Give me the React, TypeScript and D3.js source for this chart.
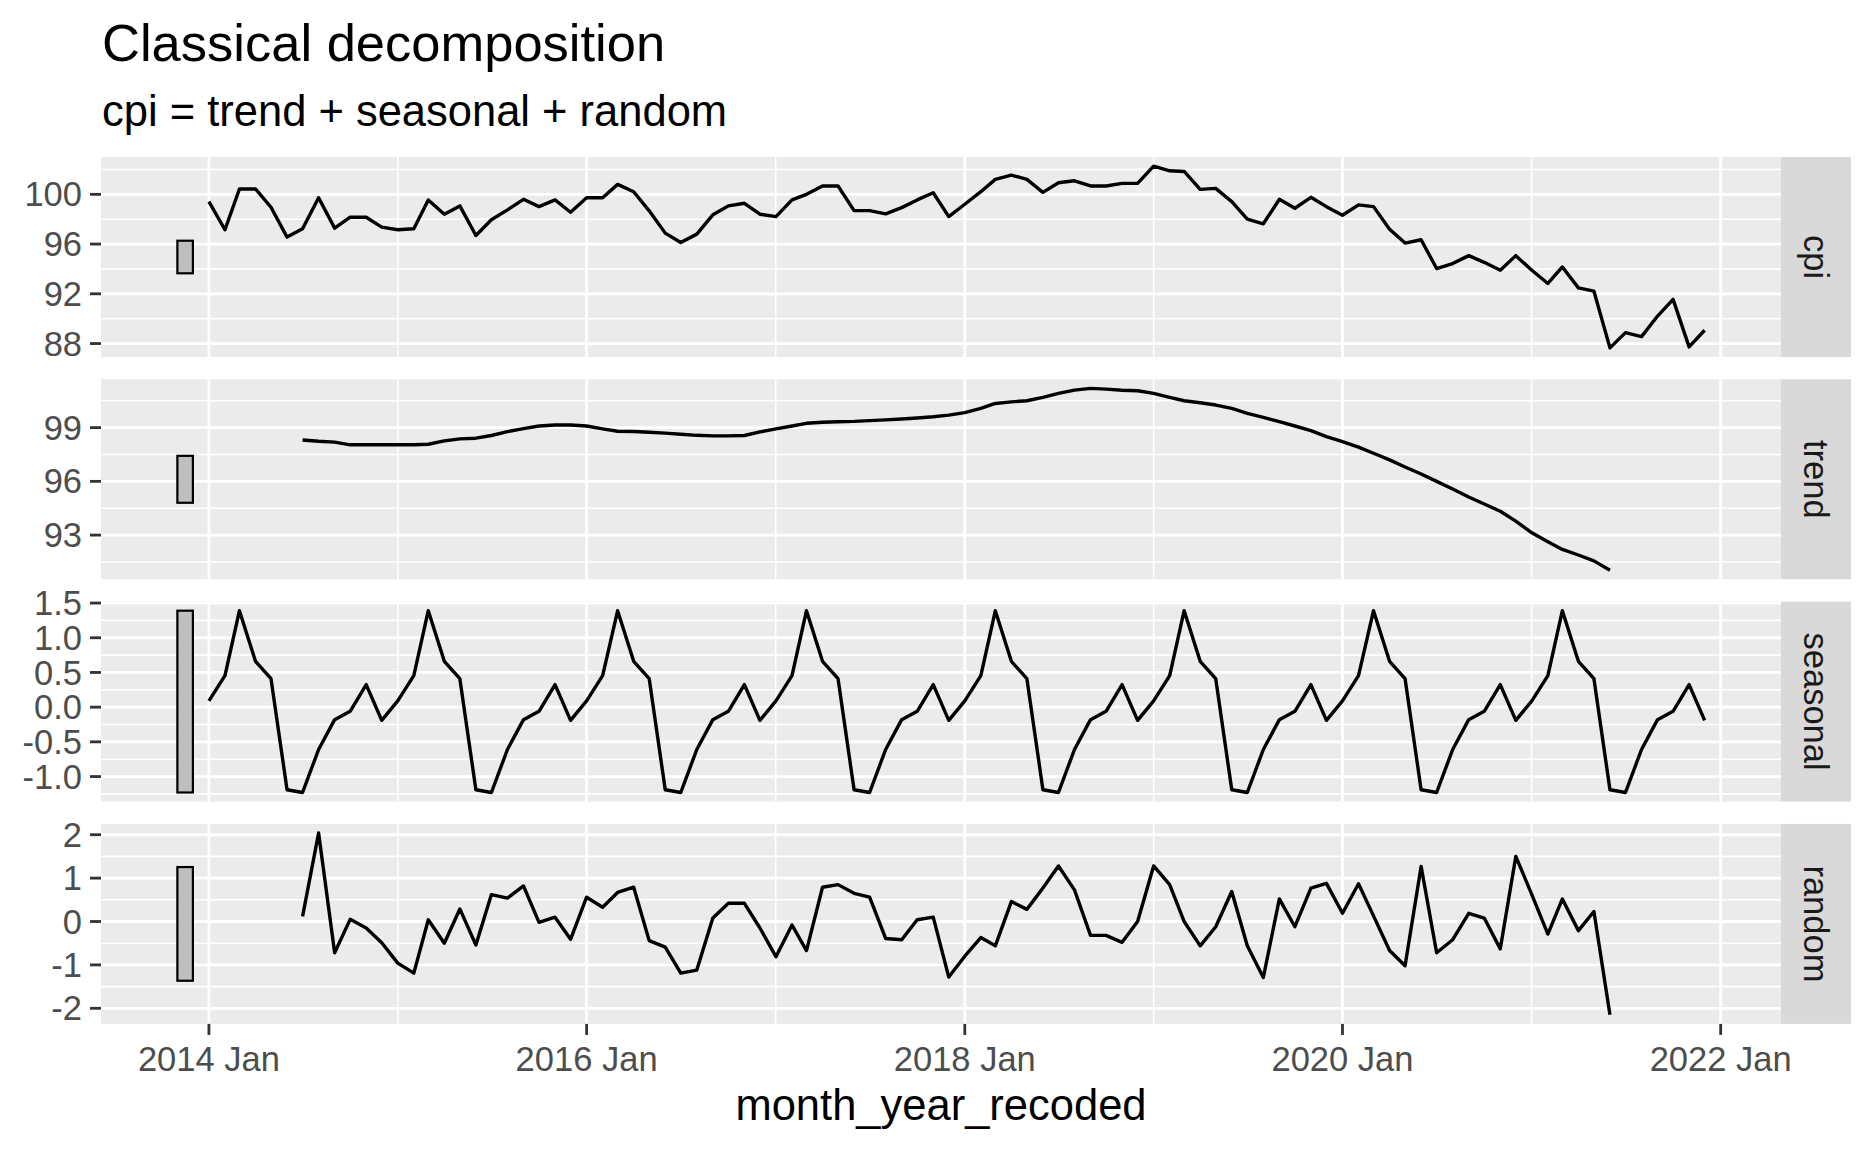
import React from "react";
import * as d3 from "d3";

// ---------- data ----------
const START = new Date(Date.UTC(2014, 0, 1));
const N_MONTHS = 96;
const MA_OFFSET = 6; // trend / random start 6 months in

const cpiValues = [
  99.41, 97.15, 100.43, 100.43, 98.96, 96.56, 97.23, 99.73, 97.28, 98.16, 98.16, 97.36,
  97.15, 97.23, 99.55, 98.4, 99.07, 96.69, 97.95, 98.75, 99.6, 99.01, 99.55, 98.56,
  99.73, 99.73, 100.8, 100.21, 98.67, 96.88, 96.13, 96.8, 98.35, 99.07, 99.28, 98.4,
  98.21, 99.55, 100.0, 100.67, 100.67, 98.69, 98.69, 98.43, 98.93, 99.55, 100.13, 98.21,
  99.2, 100.21, 101.2, 101.55, 101.2, 100.16, 100.93, 101.09, 100.67, 100.67, 100.88, 100.88,
  102.27, 101.89, 101.84, 100.4, 100.48, 99.41, 98.0, 97.63, 99.6, 98.88, 99.76, 99.01,
  98.32, 99.15, 99.01, 97.2, 96.08, 96.35, 94.03, 94.43, 95.07, 94.53, 93.89, 95.07,
  93.89, 92.83, 94.16, 92.48, 92.21, 87.65, 88.88, 88.56, 90.21, 91.55, 87.73, 89.07,
];

const trendValues = [
  98.31, 98.24, 98.19, 98.04, 98.04, 98.04,
  98.04, 98.04, 98.07, 98.26, 98.37, 98.41, 98.56, 98.78, 98.94, 99.09, 99.15, 99.15,
  99.09, 98.93, 98.8, 98.78, 98.74, 98.69, 98.63, 98.57, 98.54, 98.54, 98.56, 98.76,
  98.93, 99.09, 99.24, 99.3, 99.33, 99.35, 99.39, 99.43, 99.48, 99.54, 99.61, 99.7,
  99.84, 100.07, 100.35, 100.44, 100.5, 100.69, 100.91, 101.09, 101.19, 101.15, 101.09, 101.06,
  100.91, 100.69, 100.5, 100.39, 100.26, 100.07, 99.8, 99.57, 99.33, 99.09, 98.83, 98.5,
  98.22, 97.91, 97.57, 97.2, 96.8, 96.41, 96.0, 95.57, 95.13, 94.74, 94.33, 93.78,
  93.13, 92.63, 92.2, 91.89, 91.56, 91.04,
];

const seasonalValues = [
  0.09, 0.455, 1.39, 0.66, 0.41, -1.19, -1.23, -0.61, -0.18, -0.06, 0.325, -0.19,
  0.09, 0.455, 1.39, 0.66, 0.41, -1.19, -1.23, -0.61, -0.18, -0.06, 0.325, -0.19,
  0.09, 0.455, 1.39, 0.66, 0.41, -1.19, -1.23, -0.61, -0.18, -0.06, 0.325, -0.19,
  0.09, 0.455, 1.39, 0.66, 0.41, -1.19, -1.23, -0.61, -0.18, -0.06, 0.325, -0.19,
  0.09, 0.455, 1.39, 0.66, 0.41, -1.19, -1.23, -0.61, -0.18, -0.06, 0.325, -0.19,
  0.09, 0.455, 1.39, 0.66, 0.41, -1.19, -1.23, -0.61, -0.18, -0.06, 0.325, -0.19,
  0.09, 0.455, 1.39, 0.66, 0.41, -1.19, -1.23, -0.61, -0.18, -0.06, 0.325, -0.19,
  0.09, 0.455, 1.39, 0.66, 0.41, -1.19, -1.23, -0.61, -0.18, -0.06, 0.325, -0.19,
];

const randomValues = [
  0.12, 2.04, -0.72, 0.05, -0.15, -0.49,
  -0.96, -1.19, 0.04, -0.5, 0.29, -0.54, 0.62, 0.54, 0.82, -0.02, 0.1, -0.41,
  0.56, 0.33, 0.67, 0.79, -0.44, -0.59, -1.19, -1.12, 0.08, 0.42, 0.42, -0.15,
  -0.81, -0.08, -0.67, 0.79, 0.85, 0.65, 0.56, -0.39, -0.42, 0.04, 0.1, -1.28,
  -0.8, -0.37, -0.56, 0.46, 0.28, 0.77, 1.28, 0.73, -0.32, -0.32, -0.48, 0.0,
  1.28, 0.85, 0.0, -0.56, -0.12, 0.69, -0.56, -1.29, 0.52, -0.12, 0.77, 0.88,
  0.19, 0.87, 0.13, -0.67, -1.02, 1.27, -0.72, -0.42, 0.19, 0.08, -0.63, 1.5,
  0.62, -0.29, 0.52, -0.21, 0.23, -2.15,
];

const panelNames = ["cpi", "trend", "seasonal", "random"];
const cpiTicks = [88, 92, 96, 100];
const cpiTickLabels = ["88", "92", "96", "100"];
const trendTicks = [93, 96, 99];
const trendTickLabels = ["93", "96", "99"];
const seasonalTicks = [-1.0, -0.5, 0.0, 0.5, 1.0, 1.5];
const seasonalTickLabels = ["-1.0", "-0.5", "0.0", "0.5", "1.0", "1.5"];
const randomTicks = [-2, -1, 0, 1, 2];
const randomTickLabels = ["-2", "-1", "0", "1", "2"];
const xTickYears = [2014, 2016, 2018, 2020, 2022];
const xTickLabels = ["2014 Jan", "2016 Jan", "2018 Jan", "2020 Jan", "2022 Jan"];

const TITLE = "Classical decomposition";
const SUBTITLE = "cpi = trend + seasonal + random";
const X_TITLE = "month_year_recoded";

// ---------- layout ----------
const W = 1872;
const H = 1152;
const PANEL_LEFT = 101;
const PANEL_RIGHT = 1781;
const STRIP_RIGHT = 1851;
const PANEL_TOP = 157;
const PANEL_H = 200;
const PANEL_GAP = 22.3;
const FONT = "'Liberation Sans', Arial, Helvetica, sans-serif";
const TICK_LEN = 11;
const TICK_FONT = 34.5;
const MAJOR_W = 2.8;
const MINOR_W = 1.6;

const month = (i: number) => d3.utcMonth.offset(START, i);

export default function App() {
  const allDates = d3.range(N_MONTHS).map(month);
  const rectX0 = month(-2);
  const rectX1 = month(-1);
  const xLo = rectX0.getTime();
  const xHi = allDates[N_MONTHS - 1].getTime();
  const xPad = (xHi - xLo) * 0.05;
  const x = d3
    .scaleUtc()
    .domain([new Date(xLo - xPad), new Date(xHi + xPad)])
    .range([PANEL_LEFT, PANEL_RIGHT]);

  const xMajor = xTickYears.map((y) => new Date(Date.UTC(y, 0, 1)));
  const xMinorAll: Date[] = [];
  for (let k = 0; k < xMajor.length - 1; k++) {
    xMinorAll.push(new Date((xMajor[k].getTime() + xMajor[k + 1].getTime()) / 2));
  }
  const stepX = xMajor[1].getTime() - xMajor[0].getTime();
  xMinorAll.unshift(new Date(xMajor[0].getTime() - stepX / 2));
  const [dLo, dHi] = x.domain();
  const xMinor = xMinorAll.filter((d) => d >= dLo && d <= dHi);

  const series: { vals: number[]; offset: number; ticks: number[]; labels: string[] }[] = [
    { vals: cpiValues, offset: 0, ticks: cpiTicks, labels: cpiTickLabels },
    { vals: trendValues, offset: MA_OFFSET, ticks: trendTicks, labels: trendTickLabels },
    { vals: seasonalValues, offset: 0, ticks: seasonalTicks, labels: seasonalTickLabels },
    { vals: randomValues, offset: MA_OFFSET, ticks: randomTicks, labels: randomTickLabels },
  ];

  const ranges = series.map((s) => d3.extent(s.vals) as [number, number]);
  const minRange = d3.min(ranges, (r) => r[1] - r[0]) as number;

  const panels = series.map((s, p) => {
    const top = PANEL_TOP + p * (PANEL_H + PANEL_GAP);
    const [lo, hi] = ranges[p];
    const pad = (hi - lo) * 0.05;
    const y = d3.scaleLinear().domain([lo - pad, hi + pad]).range([top + PANEL_H, top]);
    const step = s.ticks[1] - s.ticks[0];
    const minorAll = [s.ticks[0] - step / 2, ...s.ticks.map((t) => t + step / 2)];
    const minor = minorAll.filter((v) => v >= lo - pad && v <= hi + pad);
    const pts = s.vals.map((v, i) => [month(i + s.offset), v] as [Date, number]);
    const line = d3
      .line<[Date, number]>()
      .x((d) => x(d[0]))
      .y((d) => y(d[1]));
    const center = (lo + hi) / 2;
    return {
      top,
      y,
      minor,
      ticks: s.ticks,
      labels: s.labels,
      path: line(pts) || "",
      rectY0: center - minRange / 2,
      rectY1: center + minRange / 2,
      name: panelNames[p],
    };
  });

  const bottom = panels[3].top + PANEL_H;

  return (
    <svg
      width={W}
      height={H}
      style={{ position: "absolute", left: 0, top: 0, background: "#fff" }}
      fontFamily={FONT}
    >
      <rect x={0} y={0} width={W} height={H} fill="#ffffff" />
      <text x={102} y={61} fontSize={52.5} fill="#000">
        {TITLE}
      </text>
      <text x={102} y={126} fontSize={43.5} fill="#000">
        {SUBTITLE}
      </text>

      {panels.map((pn, p) => (
        <g key={p}>
          <rect x={PANEL_LEFT} y={pn.top} width={PANEL_RIGHT - PANEL_LEFT} height={PANEL_H} fill="#EBEBEB" />
          {pn.minor.map((v, k) => (
            <line key={"hm" + k} x1={PANEL_LEFT} x2={PANEL_RIGHT} y1={pn.y(v)} y2={pn.y(v)} stroke="#fff" strokeWidth={MINOR_W} />
          ))}
          {xMinor.map((d, k) => (
            <line key={"vm" + k} x1={x(d)} x2={x(d)} y1={pn.top} y2={pn.top + PANEL_H} stroke="#fff" strokeWidth={MINOR_W} />
          ))}
          {pn.ticks.map((v, k) => (
            <line key={"hM" + k} x1={PANEL_LEFT} x2={PANEL_RIGHT} y1={pn.y(v)} y2={pn.y(v)} stroke="#fff" strokeWidth={MAJOR_W} />
          ))}
          {xMajor.map((d, k) => (
            <line key={"vM" + k} x1={x(d)} x2={x(d)} y1={pn.top} y2={pn.top + PANEL_H} stroke="#fff" strokeWidth={MAJOR_W} />
          ))}
          <rect
            x={x(rectX0)}
            y={pn.y(pn.rectY1)}
            width={x(rectX1) - x(rectX0)}
            height={pn.y(pn.rectY0) - pn.y(pn.rectY1)}
            fill="#BFBFBF"
            stroke="#000"
            strokeWidth={2.2}
          />
          <path d={pn.path} fill="none" stroke="#000" strokeWidth={3.4} strokeLinejoin="round" strokeLinecap="butt" />
          {/* y axis ticks */}
          {pn.ticks.map((v, k) => (
            <g key={"yt" + k}>
              <line x1={PANEL_LEFT - TICK_LEN} x2={PANEL_LEFT} y1={pn.y(v)} y2={pn.y(v)} stroke="#333333" strokeWidth={MAJOR_W} />
              <text x={PANEL_LEFT - TICK_LEN - 8} y={pn.y(v)} dy="0.35em" textAnchor="end" fontSize={TICK_FONT} fill="#4D4D4D">
                {pn.labels[k]}
              </text>
            </g>
          ))}
          {/* strip */}
          <rect x={PANEL_RIGHT} y={pn.top} width={STRIP_RIGHT - PANEL_RIGHT} height={PANEL_H} fill="#D9D9D9" />
          <text
            transform={`translate(${(PANEL_RIGHT + STRIP_RIGHT) / 2},${pn.top + PANEL_H / 2}) rotate(90)`}
            textAnchor="middle"
            dy="0.35em"
            fontSize={TICK_FONT}
            fill="#1A1A1A"
          >
            {pn.name}
          </text>
        </g>
      ))}

      {/* x axis */}
      {xMajor.map((d, k) => (
        <g key={"xt" + k}>
          <line x1={x(d)} x2={x(d)} y1={bottom} y2={bottom + TICK_LEN} stroke="#333333" strokeWidth={MAJOR_W} />
          <text x={x(d)} y={1071} textAnchor="middle" fontSize={TICK_FONT} fill="#4D4D4D">
            {xTickLabels[k]}
          </text>
        </g>
      ))}
      <text x={(PANEL_LEFT + PANEL_RIGHT) / 2} y={1120} textAnchor="middle" fontSize={43.5} fill="#000">
        {X_TITLE}
      </text>
    </svg>
  );
}
